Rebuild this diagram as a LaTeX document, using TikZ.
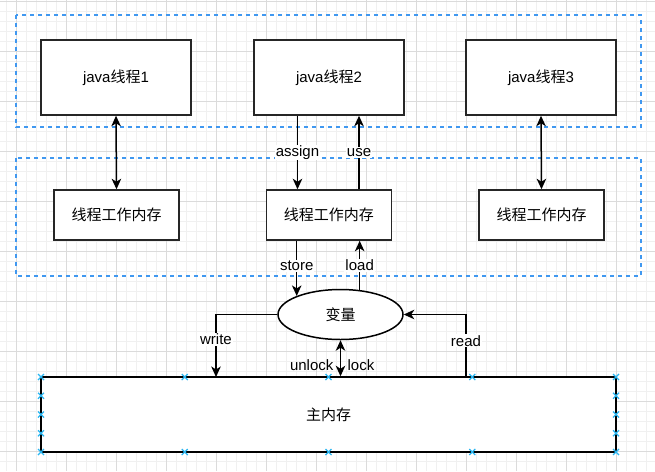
\documentclass[tikz,border=0pt]{standalone}
\usepackage{fontspec}
\setmainfont{Liberation Sans}
\newfontfamily\cjk{Noto Sans CJK SC}
\usetikzlibrary{positioning, arrows.meta, shapes.geometric}
\definecolor{groupblue}{RGB}{64,152,240}
\definecolor{handleblue}{RGB}{41,182,242}
\newcommand{\zh}[1]{{\cjk #1}}

\begin{document}
\begin{tikzpicture}[
        x=1pt, y=-1pt,
        font=\fontsize{15}{18}\selectfont,
        >={Stealth[length=10.5pt,width=9.5pt,inset=3pt]},
        % Styles
        thread/.style={% For the java threads
            rectangle,
            draw=black!85,
            line width=1.5pt,
            fill=white,
            minimum width=150pt,
            minimum height=75pt,
            },
        workmem/.style={% For the working memories
            rectangle,
            draw=black!85,
            line width=1.5pt,
            fill=white,
            minimum width=125pt,
            minimum height=50pt,
            },
        group/.style={% For the dashed groups
            draw=groupblue,
            line width=1.25pt,
            dash pattern=on 4pt off 4pt,
            },
        sharedvar/.style={% For the shared variable
            ellipse,
            draw=black,
            line width=1.5pt,
            fill=white,
            minimum width=125pt,
            minimum height=50pt,
            inner sep=0pt,
            },
        mylabel/.style={% Labels on the arrows
            fill=white,
            inner sep=1pt,
            },
        Arrow/.style={% Connectors
            line width=1.5pt,
            },
        minorgrid/.style={draw=black!6, line width=0.6pt},
        majorgrid/.style={draw=black!14, line width=0.8pt},
        handle/.style={draw=handleblue, line width=1.2pt},
        ]

    \useasboundingbox (0,0) rectangle (655,471);

    % Background grid
        \foreach \gx in {0,...,64}
            \draw[minorgrid] (6.7+10*\gx,0) -- (6.7+10*\gx,471);
        \foreach \gy in {0,...,46}
            \draw[minorgrid] (0,1.7+10*\gy) -- (655,1.7+10*\gy);
        \foreach \gx in {0,...,12}
            \draw[majorgrid] (16.7+50*\gx,0) -- (16.7+50*\gx,471);
        \foreach \gy in {0,...,9}
            \draw[majorgrid] (0,1.7+50*\gy) -- (655,1.7+50*\gy);

    % Nodes
        % Dashed groups
        \draw[group] (16,15) rectangle (641,127);
        \draw[group] (16,158) rectangle (641,276);

        % Java threads
        \node [thread] (java1) at (116,77.5) {java\zh{线程}1};
        \node [thread] (java2) at (329,77.5) {java\zh{线程}2};
        \node [thread] (java3) at (541,77.5) {java\zh{线程}3};

        % Working memories
        \node [workmem] (wm1) at (116.5,215) {\zh{线程工作内存}};
        \node [workmem] (wm2) at (328.75,215) {\zh{线程工作内存}};
        \node [workmem] (wm3) at (541.5,215) {\zh{线程工作内存}};

        % Shared variable and main memory
        \node [sharedvar] (var) at (340.5,314.5) {\zh{变量}};
        \node [rectangle, draw=black, line width=1.5pt, fill=white,
               minimum width=575pt, minimum height=75pt] (mem) at (328.5,414.5) {\zh{主内存}};

        % Free ends on the main memory
        \coordinate (wtop) at (216,377);
        \coordinate (rtop) at (466,377);

    % Start connecting all.
        \draw [<->, Arrow] (java1.south) -- (wm1.north);
        \draw [<->, Arrow] (java3.south) -- (wm3.north);
        \draw [->, Arrow] ([xshift=-31.5pt]java2.south) -- node[mylabel] {assign} ([xshift=-31.25pt]wm2.north);
        \draw [->, Arrow] ([xshift=30.25pt]wm2.north) -- node[mylabel] {use} ([xshift=30pt]java2.south);
        \draw [->, Arrow] (var.157.6 |- wm2.south) -- node[mylabel, pos=0.45] {store} (var.157.6);
        \draw [->, Arrow] (var.52.2) -- node[mylabel, pos=0.5] {load} (var.52.2 |- wm2.south);
        \draw [->, Arrow] (var.west) -| node[mylabel, pos=0.7] {write} (wtop);
        \draw [->, Arrow] (rtop) |- node[mylabel, pos=0.29] {read} (var.east);
        \draw [<->, Arrow] (var.south) -- node[pos=0.68, left=3pt] {unlock} node[pos=0.68, right=3pt] {lock} (var.south |- mem.north);

    % Selection handles on the main memory
        \foreach \hx in {41,184.75,328.5,472.25,616}
            \foreach \hy in {377,452}
                \draw[handle] (\hx-3,\hy-3) -- ++(6,6) (\hx-3,\hy+3) -- ++(6,-6);
        \foreach \hx in {41,616}
            \foreach \hy in {395.75,414.5,433.25}
                \draw[handle] (\hx-3,\hy-3) -- ++(6,6) (\hx-3,\hy+3) -- ++(6,-6);

\end{tikzpicture}
\end{document}
